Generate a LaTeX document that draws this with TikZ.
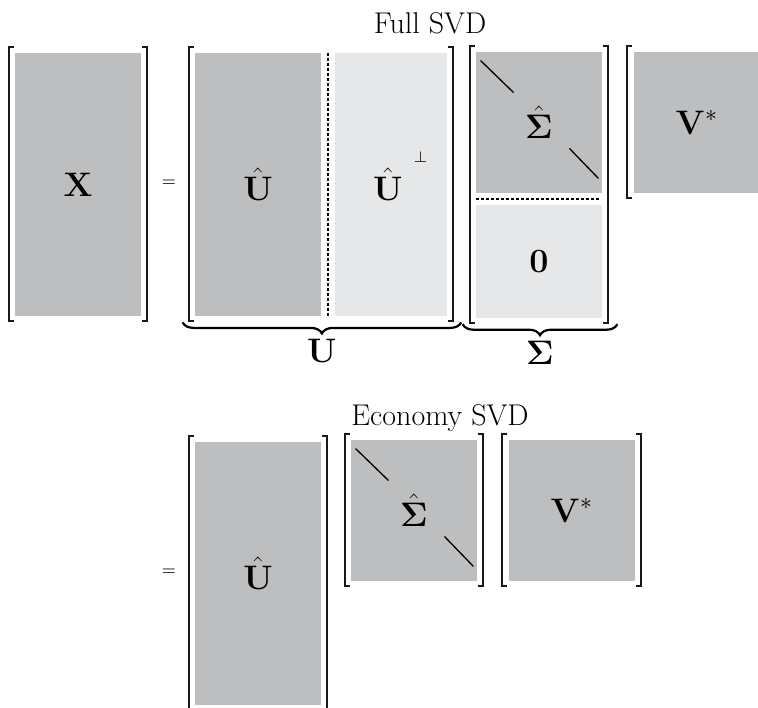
\documentclass[tikz,border=0pt]{standalone}
\usepackage{fix-cm}
\usepackage{amsmath}
\usepackage{tikz}
\usetikzlibrary{positioning,decorations.pathreplacing}
\definecolor{blockdark}{RGB}{189,190,192}
\definecolor{blocklight}{RGB}{230,231,232}
\tikzstyle{dark}=[rectangle, fill=blockdark, inner sep=0pt, text centered, font=\fontsize{17}{20}\selectfont]
\tikzstyle{light}=[rectangle, fill=blocklight, inner sep=0pt, text centered, font=\fontsize{17}{20}\selectfont]
\tikzstyle{tall}=[minimum width=63pt, minimum height=131.5pt]
\tikzstyle{square}=[minimum width=63pt, minimum height=70.5pt]
\tikzstyle{bracket}=[line width=1pt, black!90]
\tikzstyle{divider}=[dash pattern=on 1.5pt off 1pt, line width=0.65pt]
\tikzstyle{diag}=[line width=0.65pt]
\tikzstyle{under}=[decorate, decoration={brace, mirror, amplitude=5.5pt}, line width=1.1pt]
\tikzstyle{bracelabel}=[midway, below=8pt, inner sep=0pt, font=\fontsize{17}{20}\selectfont]
\tikzstyle{title}=[anchor=base, font=\fontsize{15}{18}\selectfont]
\tikzstyle{equals}=[font=\fontsize{8.5}{10}\selectfont]

% square brackets round a block, from the top left box to the bottom right box
\newcommand{\matbrackets}[2]{
    \coordinate (tl) at ([shift={(-3pt,3pt)}]#1.north west);
    \coordinate (br) at ([shift={(3pt,-2.5pt)}]#2.south east);
    \coordinate (tr) at (tl -| br);
    \coordinate (bl) at (tl |- br);
    \draw[bracket] ([xshift=2.5pt]tl) -- (tl) -- (bl) -- ([xshift=2.5pt]bl);
    \draw[bracket] ([xshift=-2.5pt]tr) -- (tr) -- (br) -- ([xshift=-2.5pt]br);
}
% the two pieces of the diagonal
\newcommand{\diaglines}[1]{
    \draw[diag] ([shift={(2.5pt,-4.5pt)}]#1.north west) -- ++(16.5pt,-16pt);
    \draw[diag] ([shift={(-2pt,7.5pt)}]#1.south east) -- ++(-14.5pt,15pt);
}

\begin{document}
\begin{tikzpicture}[x=0.5pt, y=-0.5pt]
    \useasboundingbox (0,0) rectangle (758,707);

    % full SVD
    \node(full)[title] at (430,33) {Full SVD};
    \node(X)[dark, tall] at (78,184.5) {$\mathbf{X}$};
    \node(eqfull)[equals] at (169,183) {$=$};
    \node(Uhat)[dark, tall] at (258,184.5) {$\hat{\mathbf{U}}$};
    \node(Uperp)[light, tall, minimum width=56pt, right=6.5pt of Uhat]
        {\hspace{-3pt}$\hat{\mathbf{U}}$\rlap{\hspace{5.5pt}\smash{\raisebox{19pt}{\fontsize{7.7}{9}\selectfont$\perp$}}}};
    \node(Sigmahat)[dark, square] at (539,122.5) {$\hat{\mathbf{\Sigma}}$};
    \node(zero)[light, square, minimum height=56.5pt, below=5.5pt of Sigmahat] {$\mathbf{0}$};
    \node(Vstar)[dark, square, right=15.5pt of Sigmahat] {$\mathbf{V}^*$};

    \matbrackets{X}{X}
    \matbrackets{Uhat}{Uperp}
    \matbrackets{Sigmahat}{zero}
    \matbrackets{Vstar}{Vstar}

    \draw[divider] ([xshift=3.25pt]Uhat.north east) -- ([xshift=3.25pt]Uhat.south east);
    \draw[divider] ([yshift=-2.75pt]Sigmahat.south west) -- ([shift={(-1.5pt,-2.75pt)}]Sigmahat.south east);
    \diaglines{Sigmahat}

    \draw[under] ([shift={(-6pt,-3pt)}]Uhat.south west) -- ([shift={(7pt,-3pt)}]Uperp.south east)
        node(Ulabel)[bracelabel] {$\mathbf{U}$};
    \draw[under] ([shift={(-6.5pt,-3pt)}]zero.south west) -- ([shift={(7.5pt,-3pt)}]zero.south east)
        node(Sigmalabel)[bracelabel] {$\mathbf{\Sigma}$};

    % economy SVD
    \node(economy)[title] at (440,425) {Economy SVD};
    \node(eqeco)[equals] at (169,572) {$=$};
    \node(ecoU)[dark, tall] at (258,573.5) {$\hat{\mathbf{U}}$};
    \node(ecoSigma)[dark, square] at (414,510.5) {$\hat{\mathbf{\Sigma}}$};
    \node(ecoV)[dark, square, right=15.5pt of ecoSigma] {$\mathbf{V}^*$};

    \matbrackets{ecoU}{ecoU}
    \matbrackets{ecoSigma}{ecoSigma}
    \matbrackets{ecoV}{ecoV}
    \diaglines{ecoSigma}
\end{tikzpicture}
\end{document}
